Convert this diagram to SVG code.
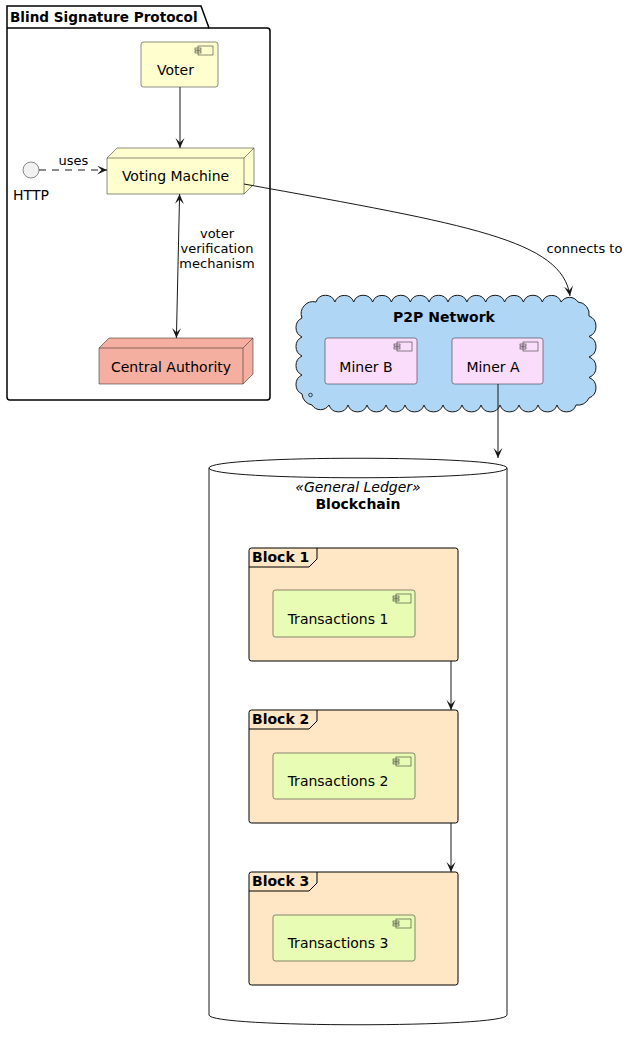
<svg xmlns="http://www.w3.org/2000/svg" width="629" height="1041" viewBox="0 0 629 1041">
<style>
text{font-family:"DejaVu Sans",Verdana,sans-serif;fill:#000}
.l{font-size:14px}
.b{font-size:14px;font-weight:bold}
.t{font-size:13.6px;font-weight:bold}
.s{font-size:13px}
.comp{stroke:#181818;stroke-width:0.5}
.icon{fill:none;stroke:#181818;stroke-width:0.5}
.edge{fill:none;stroke:#181818;stroke-width:1}
</style>
<defs>
<marker id="ah" markerWidth="12" markerHeight="10" refX="10" refY="4.5" orient="auto-start-reverse" markerUnits="userSpaceOnUse">
<path d="M0,0 L10,4.5 L0,9 L4.5,4.5 Z" fill="#181818"/>
</marker>
<g id="cicon">
<rect x="0" y="0" width="15" height="9" class="icon"/>
<rect x="-3" y="2" width="6" height="2" class="icon" fill="#fff"/>
<rect x="-3" y="5" width="6" height="2" class="icon" fill="#fff"/>
</g>
</defs>

<g id="pkg-blind">
<path d="M7,28 L7,6 L201,6 L209,28 L267,28 Q270,28 270,31 L270,397 Q270,400 267,400 L10,400 Q7,400 7,397 Z" fill="none" stroke="#000" stroke-width="1.5"/>
<line x1="7" y1="28" x2="209" y2="28" stroke="#000" stroke-width="1.5"/>
<text class="t" x="10" y="22">Blind Signature Protocol</text>
</g>

<g id="voter">
<rect x="141" y="42" width="77" height="45" rx="2.5" fill="#FEFECE" class="comp"/>
<use href="#cicon" x="198" y="46"/>
<text class="l" x="175.5" y="75" text-anchor="middle">Voter</text>
</g>

<g id="voting-machine">
<path d="M107,158 L117,148 L254,148 L254,184 L244,194 L107,194 Z" fill="#FEFECE" class="comp"/>
<path d="M107,158 L244,158 L254,148 M244,158 L244,194" fill="none" class="comp"/>
<text class="l" x="175.5" y="181" text-anchor="middle">Voting Machine</text>
</g>

<g id="http">
<circle cx="31" cy="170" r="8" fill="#F1F1F1" class="comp"/>
<text class="l" x="31" y="200" text-anchor="middle">HTTP</text>
</g>

<g id="central-authority">
<path d="M99,348 L109,338 L253,338 L253,374 L243,384 L99,384 Z" fill="#F4AFA0" class="comp"/>
<path d="M99,348 L243,348 L253,338 M243,348 L243,384" fill="none" class="comp"/>
<text class="l" x="171" y="372" text-anchor="middle">Central Authority</text>
</g>

<g id="p2p-network">
<path d="M302,318 A12,12 0 0 1 316,302 A10,10 0 0 1 334.9,302 A10,10 0 0 1 353.7,302 A10,10 0 0 1 372.6,302 A10,10 0 0 1 391.4,302 A10,10 0 0 1 410.3,302 A10,10 0 0 1 429.1,302 A10,10 0 0 1 448,302 A10,10 0 0 1 466.9,302 A10,10 0 0 1 485.7,302 A10,10 0 0 1 504.6,302 A10,10 0 0 1 523.4,302 A10,10 0 0 1 542.3,302 A10,10 0 0 1 561.1,302 A10,10 0 0 1 578,302 A12,12 0 0 1 589,316 A11,11 0 0 1 589,336.5 A11,11 0 0 1 589,357 A11,11 0 0 1 589,377.5 A11,11 0 0 1 589,398 A12,12 0 0 1 576,405 A10,10 0 0 1 557,405 A10,10 0 0 1 538,405 A10,10 0 0 1 519,405 A10,10 0 0 1 500,405 A10,10 0 0 1 481,405 A10,10 0 0 1 462,405 A10,10 0 0 1 443,405 A10,10 0 0 1 424,405 A10,10 0 0 1 405,405 A10,10 0 0 1 386,405 A10,10 0 0 1 367,405 A10,10 0 0 1 348,405 A10,10 0 0 1 329,405 A10,10 0 0 1 312,405 A12,12 0 0 1 302,394 A10.5,10.5 0 0 1 302,375 A10.5,10.5 0 0 1 302,356 A10.5,10.5 0 0 1 302,337 A10.5,10.5 0 0 1 302,318 Z" fill="#B0D6F6" stroke="#181818" stroke-width="1"/>
<circle cx="310.5" cy="395" r="1.8" fill="none" stroke="#181818" stroke-width="0.8"/>
<text class="b" x="444" y="322" text-anchor="middle">P2P Network</text>
</g>

<g id="miner-b">
<rect x="325" y="338" width="92" height="46" rx="2.5" fill="#FADDFA" class="comp"/>
<use href="#cicon" x="397" y="342"/>
<text class="l" x="366" y="372" text-anchor="middle">Miner B</text>
</g>

<g id="miner-a">
<rect x="452" y="338" width="91" height="46" rx="2.5" fill="#FADDFA" class="comp"/>
<use href="#cicon" x="523" y="342"/>
<text class="l" x="493" y="372" text-anchor="middle">Miner A</text>
</g>

<g id="blockchain">
<path d="M209,468 C209,455 507,455 507,468 L507,1015 C507,1028 209,1028 209,1015 Z" fill="#fff" stroke="#181818" stroke-width="1"/>
<path d="M209,468 C209,481 507,481 507,468" fill="none" stroke="#181818" stroke-width="1"/>
<text x="358" y="492" text-anchor="middle" style="font-size:14px;font-style:italic">«General Ledger»</text>
<text class="b" x="358" y="509" text-anchor="middle">Blockchain</text>
</g>

<g id="block-1">
<rect x="249" y="548" width="209" height="113" rx="2.5" fill="#FFE6C4" stroke="#000" stroke-width="1"/>
<path d="M249,567 L309,567 L317,559 L317,548" fill="none" stroke="#000" stroke-width="1"/>
<text class="b" x="252" y="562">Block 1</text>
</g>
<g id="transactions-1">
<rect x="273" y="590" width="142" height="47" rx="2.5" fill="#E8FCB4" class="comp"/>
<use href="#cicon" x="396" y="594"/>
<text class="l" x="338" y="624" text-anchor="middle">Transactions 1</text>
</g>

<g id="block-2">
<rect x="249" y="710" width="209" height="113" rx="2.5" fill="#FFE6C4" stroke="#000" stroke-width="1"/>
<path d="M249,729 L309,729 L317,721 L317,710" fill="none" stroke="#000" stroke-width="1"/>
<text class="b" x="252" y="724">Block 2</text>
</g>
<g id="transactions-2">
<rect x="273" y="753" width="142" height="46" rx="2.5" fill="#E8FCB4" class="comp"/>
<use href="#cicon" x="396" y="757"/>
<text class="l" x="338" y="786" text-anchor="middle">Transactions 2</text>
</g>

<g id="block-3">
<rect x="249" y="872" width="209" height="113" rx="2.5" fill="#FFE6C4" stroke="#000" stroke-width="1"/>
<path d="M249,891 L309,891 L317,883 L317,872" fill="none" stroke="#000" stroke-width="1"/>
<text class="b" x="252" y="886">Block 3</text>
</g>
<g id="transactions-3">
<rect x="273" y="915" width="142" height="46" rx="2.5" fill="#E8FCB4" class="comp"/>
<use href="#cicon" x="396" y="919"/>
<text class="l" x="338" y="948" text-anchor="middle">Transactions 3</text>
</g>

<g id="connectors">
<line x1="180" y1="87" x2="180" y2="148" class="edge" marker-end="url(#ah)"/>
<line x1="39" y1="170" x2="107" y2="170" class="edge" stroke-dasharray="7,6" marker-end="url(#ah)"/>
<text class="s" x="73.5" y="165" text-anchor="middle">uses</text>
<line x1="179.6" y1="194" x2="176.4" y2="338" class="edge" marker-start="url(#ah)" marker-end="url(#ah)"/>
<text class="s" x="217" y="238" text-anchor="middle">voter</text>
<text class="s" x="217" y="253" text-anchor="middle">verification</text>
<text class="s" x="217" y="268" text-anchor="middle">mechanism</text>
<path d="M244,184 C470,225 562,240 570,296" class="edge" marker-end="url(#ah)"/>
<text class="s" x="584.5" y="253" text-anchor="middle">connects to</text>
<line x1="498" y1="384" x2="498" y2="458" class="edge" marker-end="url(#ah)"/>
<line x1="451" y1="661" x2="451" y2="710" class="edge" marker-end="url(#ah)"/>
<line x1="451" y1="823" x2="451" y2="872" class="edge" marker-end="url(#ah)"/>
</g>
</svg>
